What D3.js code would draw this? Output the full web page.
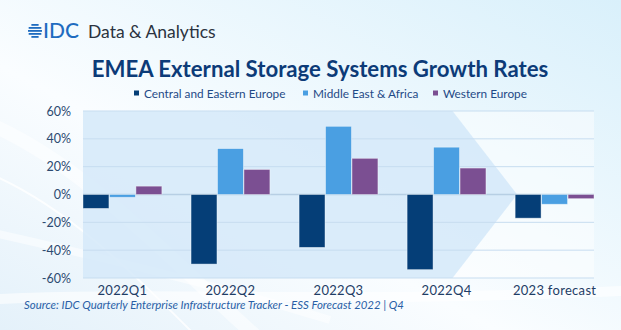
<!DOCTYPE html>
<html>
<head>
<meta charset="utf-8">
<script src="https://cdn.jsdelivr.net/npm/d3@7"></script>
<style>
  html, body { margin: 0; padding: 0; background: #fff; }
  svg { display: block; font-family: "Lato", "Open Sans", sans-serif; }
</style>
</head>
<body>
<script>
"use strict";

// chart data
const quarters = ["2022Q1", "2022Q2", "2022Q3", "2022Q4", "2023 forecast"];
const regions = ["Central and Eastern Europe", "Middle East & Africa", "Western Europe"];
const centralEastern = [-10, -50, -38, -54, -17];
const middleEastAfrica = [-2, 33, 49, 34, -7];
const westernEurope = [6, 18, 26, 19, -3];
const yTicks = [60, 40, 20, 0, -20, -40, -60];

const regionColors = ["#053e77", "#4a9fe2", "#7b4f92"];
const seriesValues = [centralEastern, middleEastAfrica, westernEurope];

const width = 621;
const height = 330;

const svg = d3.select("body")
  .append("svg")
  .attr("width", width)
  .attr("height", height)
  .attr("viewBox", [0, 0, width, height]);

// background gradient + a few soft swooshes
const defs = svg.append("defs");
const bg = defs.append("linearGradient")
  .attr("id", "bg")
  .attr("x1", "0").attr("y1", "1").attr("x2", "1").attr("y2", "0");
bg.append("stop").attr("offset", "0%").attr("stop-color", "#e4f1fa");
bg.append("stop").attr("offset", "40%").attr("stop-color", "#fafdff");
bg.append("stop").attr("offset", "100%").attr("stop-color", "#d9f0fb");

svg.append("rect").attr("width", width).attr("height", height).attr("fill", "url(#bg)");

const swoosh = svg.append("g").attr("fill", "none").attr("stroke", "#ffffff").attr("stroke-opacity", 0.8);
swoosh.append("path").attr("d", "M-20,120 C80,160 160,250 260,340").attr("stroke-width", 14).attr("stroke-opacity", 0.5);
swoosh.append("path").attr("d", "M-20,170 C60,200 130,270 200,340").attr("stroke-width", 2);
swoosh.append("path").attr("d", "M-20,230 C70,250 200,280 330,320").attr("stroke-width", 8).attr("stroke-opacity", 0.5);
swoosh.append("path").attr("d", "M-20,300 C150,290 350,305 640,290").attr("stroke-width", 10).attr("stroke-opacity", 0.6);

// scales
const margin = { left: 83, right: 27, top: 111, bottom: 52 };

const x = d3.scaleBand()
  .domain(quarters)
  .range([margin.left, width - margin.right])
  .paddingInner(0.27)
  .paddingOuter(0);

const xSeries = d3.scaleBand()
  .domain(regions)
  .range([0, x.bandwidth()])
  .paddingInner(0.02);

const y = d3.scaleLinear()
  .domain([-60, 60])
  .range([height - margin.bottom, margin.top]);

// plot background and the big arrow band
svg.append("rect")
  .attr("x", margin.left)
  .attr("y", y(60))
  .attr("width", width - margin.right - margin.left)
  .attr("height", y(-60) - y(60))
  .attr("fill", "#ffffff")
  .attr("fill-opacity", 0.45);

const arrowEnd = x("2022Q4") + x.bandwidth() / 2 + 6;
const arrowTip = x("2023 forecast") + 2;
svg.append("path")
  .attr("d", `M${margin.left},${y(60)} L${arrowEnd},${y(60)} L${arrowTip},${y(0)} L${arrowEnd},${y(-60)} L${margin.left},${y(-60)} Z`)
  .attr("fill", "#cfe6f8")
  .attr("fill-opacity", 0.75);

// gridlines
svg.append("g")
  .selectAll("line")
  .data(yTicks)
  .join("line")
  .attr("x1", margin.left)
  .attr("x2", width - margin.right)
  .attr("y1", (d) => y(d))
  .attr("y2", (d) => y(d))
  .attr("stroke", (d) => d === 0 ? "#b7cfe4" : "#c7ddf0")
  .attr("stroke-width", (d) => d === 0 ? 1.5 : 1);

// y axis labels
const yAxis = svg.append("g")
  .attr("transform", `translate(${margin.left - 9},0)`)
  .call(d3.axisLeft(y).tickValues(yTicks).tickFormat((d) => d + "%").tickSize(0));
yAxis.select(".domain").remove();
yAxis.selectAll("text")
  .attr("fill", "#2c4a70")
  .attr("font-size", 12.5)
  .attr("font-family", "Lato, sans-serif");

// x axis labels
const xAxis = svg.append("g")
  .attr("transform", `translate(0,${y(-60) + 5})`)
  .call(d3.axisBottom(x).tickSize(0));
xAxis.select(".domain").remove();
xAxis.selectAll("text")
  .attr("fill", "#1f3d66")
  .attr("font-size", 13)
  .attr("letter-spacing", 0.3)
  .attr("font-family", "Lato, sans-serif");

// bars
const rows = quarters.map((q, i) => ({
  quarter: q,
  values: regions.map((r, j) => ({ region: r, value: seriesValues[j][i], color: regionColors[j] }))
}));

svg.append("g")
  .selectAll("g")
  .data(rows)
  .join("g")
  .attr("transform", (d) => `translate(${x(d.quarter)},0)`)
  .selectAll("rect")
  .data((d) => d.values)
  .join("rect")
  .attr("x", (d) => xSeries(d.region))
  .attr("width", xSeries.bandwidth())
  .attr("y", (d) => y(Math.max(0, d.value)))
  .attr("height", (d) => Math.abs(y(d.value) - y(0)))
  .attr("fill", (d) => d.color)
  .attr("stroke", "#ffffff")
  .attr("stroke-opacity", 0.5)
  .attr("stroke-width", 0.8);

// title
svg.append("text")
  .attr("x", 320)
  .attr("y", 77)
  .attr("text-anchor", "middle")
  .attr("font-family", "Lato, sans-serif")
  .attr("font-weight", 700)
  .attr("font-size", 22.2)
  .attr("fill", "#0c3b78")
  .text("EMEA External Storage Systems Growth Rates");

// legend
const legendX = [134, 303, 433];
const legend = svg.append("g")
  .selectAll("g")
  .data(regions)
  .join("g")
  .attr("transform", (d, i) => `translate(${legendX[i]},94)`);
legend.append("rect")
  .attr("x", 0).attr("y", -3.5)
  .attr("width", 5).attr("height", 5)
  .attr("fill", (d, i) => regionColors[i]);
legend.append("text")
  .attr("x", 10)
  .attr("dy", "0.35em")
  .attr("font-size", 11.8)
  .attr("fill", "#1f4a86")
  .text((d) => d);

// logo
const logo = svg.append("g").attr("transform", "translate(28,31)");
const logoColor = "#1f6cc0";
[-6, -3, 0, 3, 6].forEach((dy) => {
  const half = Math.sqrt(Math.max(0, 49 - dy * dy));
  logo.append("rect")
    .attr("x", 7 - half).attr("y", dy - 1)
    .attr("width", half * 2).attr("height", 1.8)
    .attr("fill", logoColor);
});
logo.append("text")
  .attr("x", 15)
  .attr("y", 7)
  .attr("font-family", "Lato, sans-serif")
  .attr("font-size", 21)
  .attr("font-weight", 500)
  .attr("fill", logoColor)
  .text("IDC");
logo.append("text")
  .attr("x", 60)
  .attr("y", 6.5)
  .attr("font-family", "Lato, sans-serif")
  .attr("font-size", 17.5)
  .attr("fill", "#2b3340")
  .text("Data & Analytics");

// source note
svg.append("text")
  .attr("x", 24)
  .attr("y", 309)
  .attr("font-style", "italic")
  .attr("font-size", 11.4)
  .attr("fill", "#2a5fa6")
  .text("Source: IDC Quarterly Enterprise Infrastructure Tracker - ESS Forecast 2022 | Q4");
</script>
</body>
</html>
